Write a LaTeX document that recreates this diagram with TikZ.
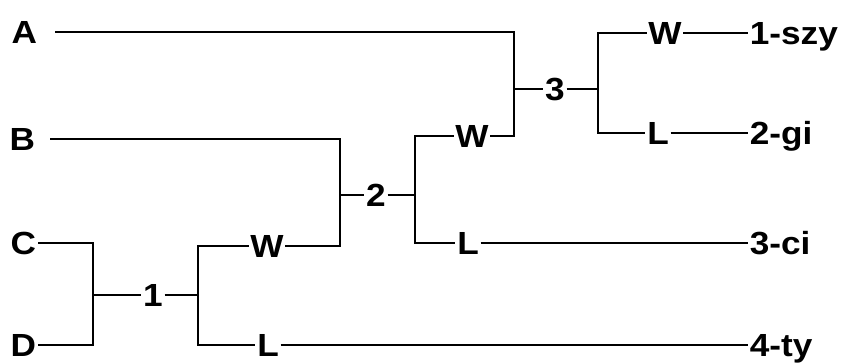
\documentclass[tikz,border=0pt]{standalone}
\usepackage{fontspec}
\setmainfont{Liberation Sans}[FakeStretch=1.1]

\tikzset{
  rot/.style={font=\bfseries\fontsize{32}{38}\selectfont, inner sep=1pt, text height=23pt, text depth=0pt},
}

\begin{document}
\begin{tikzpicture}[x=1pt, y=-1pt, line width=1.7pt]
        \useasboundingbox (0,0) rectangle (842,362);

        % Nomes a esquerda
        \node[rot, anchor=east, outer xsep=17pt] (A) at (55,32) {A};
        \node[rot, anchor=east, outer xsep=14pt] (B) at (50,139) {B};
        \node[rot, anchor=east] (C) at (38,243) {C};
        \node[rot, anchor=east] (D) at (38,345) {D};

        % Jogos
        \node[rot] (n1) at (153,295) {1};
        \node[rot] (n2) at (376,195) {2};
        \node[rot] (n3) at (555,89) {3};

        \coordinate (j1) at (93,295);
        \coordinate (s1) at (198,295);
        \coordinate (j2) at (340,195);
        \coordinate (s2) at (415,195);
        \coordinate (j3) at (514,89);
        \coordinate (s3) at (598,89);

        \node[rot] (W1) at (267,246) {W};
        \node[rot] (L1) at (268,345) {L};
        \node[rot] (W2) at (472,136) {W};
        \node[rot] (L2) at (468,243) {L};
        \node[rot] (W3) at (665,33) {W};
        \node[rot] (L3) at (658,133) {L};

        % Lugares
        \node[rot, anchor=west] (r1) at (748,33) {1-szy};
        \node[rot, anchor=west] (r2) at (748,133) {2-gi};
        \node[rot, anchor=west] (r3) at (748,243) {3-ci};
        \node[rot, anchor=west] (r4) at (748,345) {4-ty};

        \draw (C) -| (j1) -- (n1);
        \draw (D) -| (j1);
        \draw (n1) -- (s1) |- (W1);
        \draw (s1) |- (L1);
        \draw (W1) -| (j2);
        \draw (B) -| (j2) -- (n2);
        \draw (n2) -- (s2) |- (W2);
        \draw (s2) |- (L2);
        \draw (W2) -| (j3);
        \draw (A) -| (j3) -- (n3);
        \draw (n3) -- (s3) |- (W3);
        \draw (s3) |- (L3);
        \draw (W3) -- (r1);
        \draw (L3) -- (r2);
        \draw (L2) -- (r3);
        \draw (L1) -- (r4);
    \end{tikzpicture}
\end{document}
